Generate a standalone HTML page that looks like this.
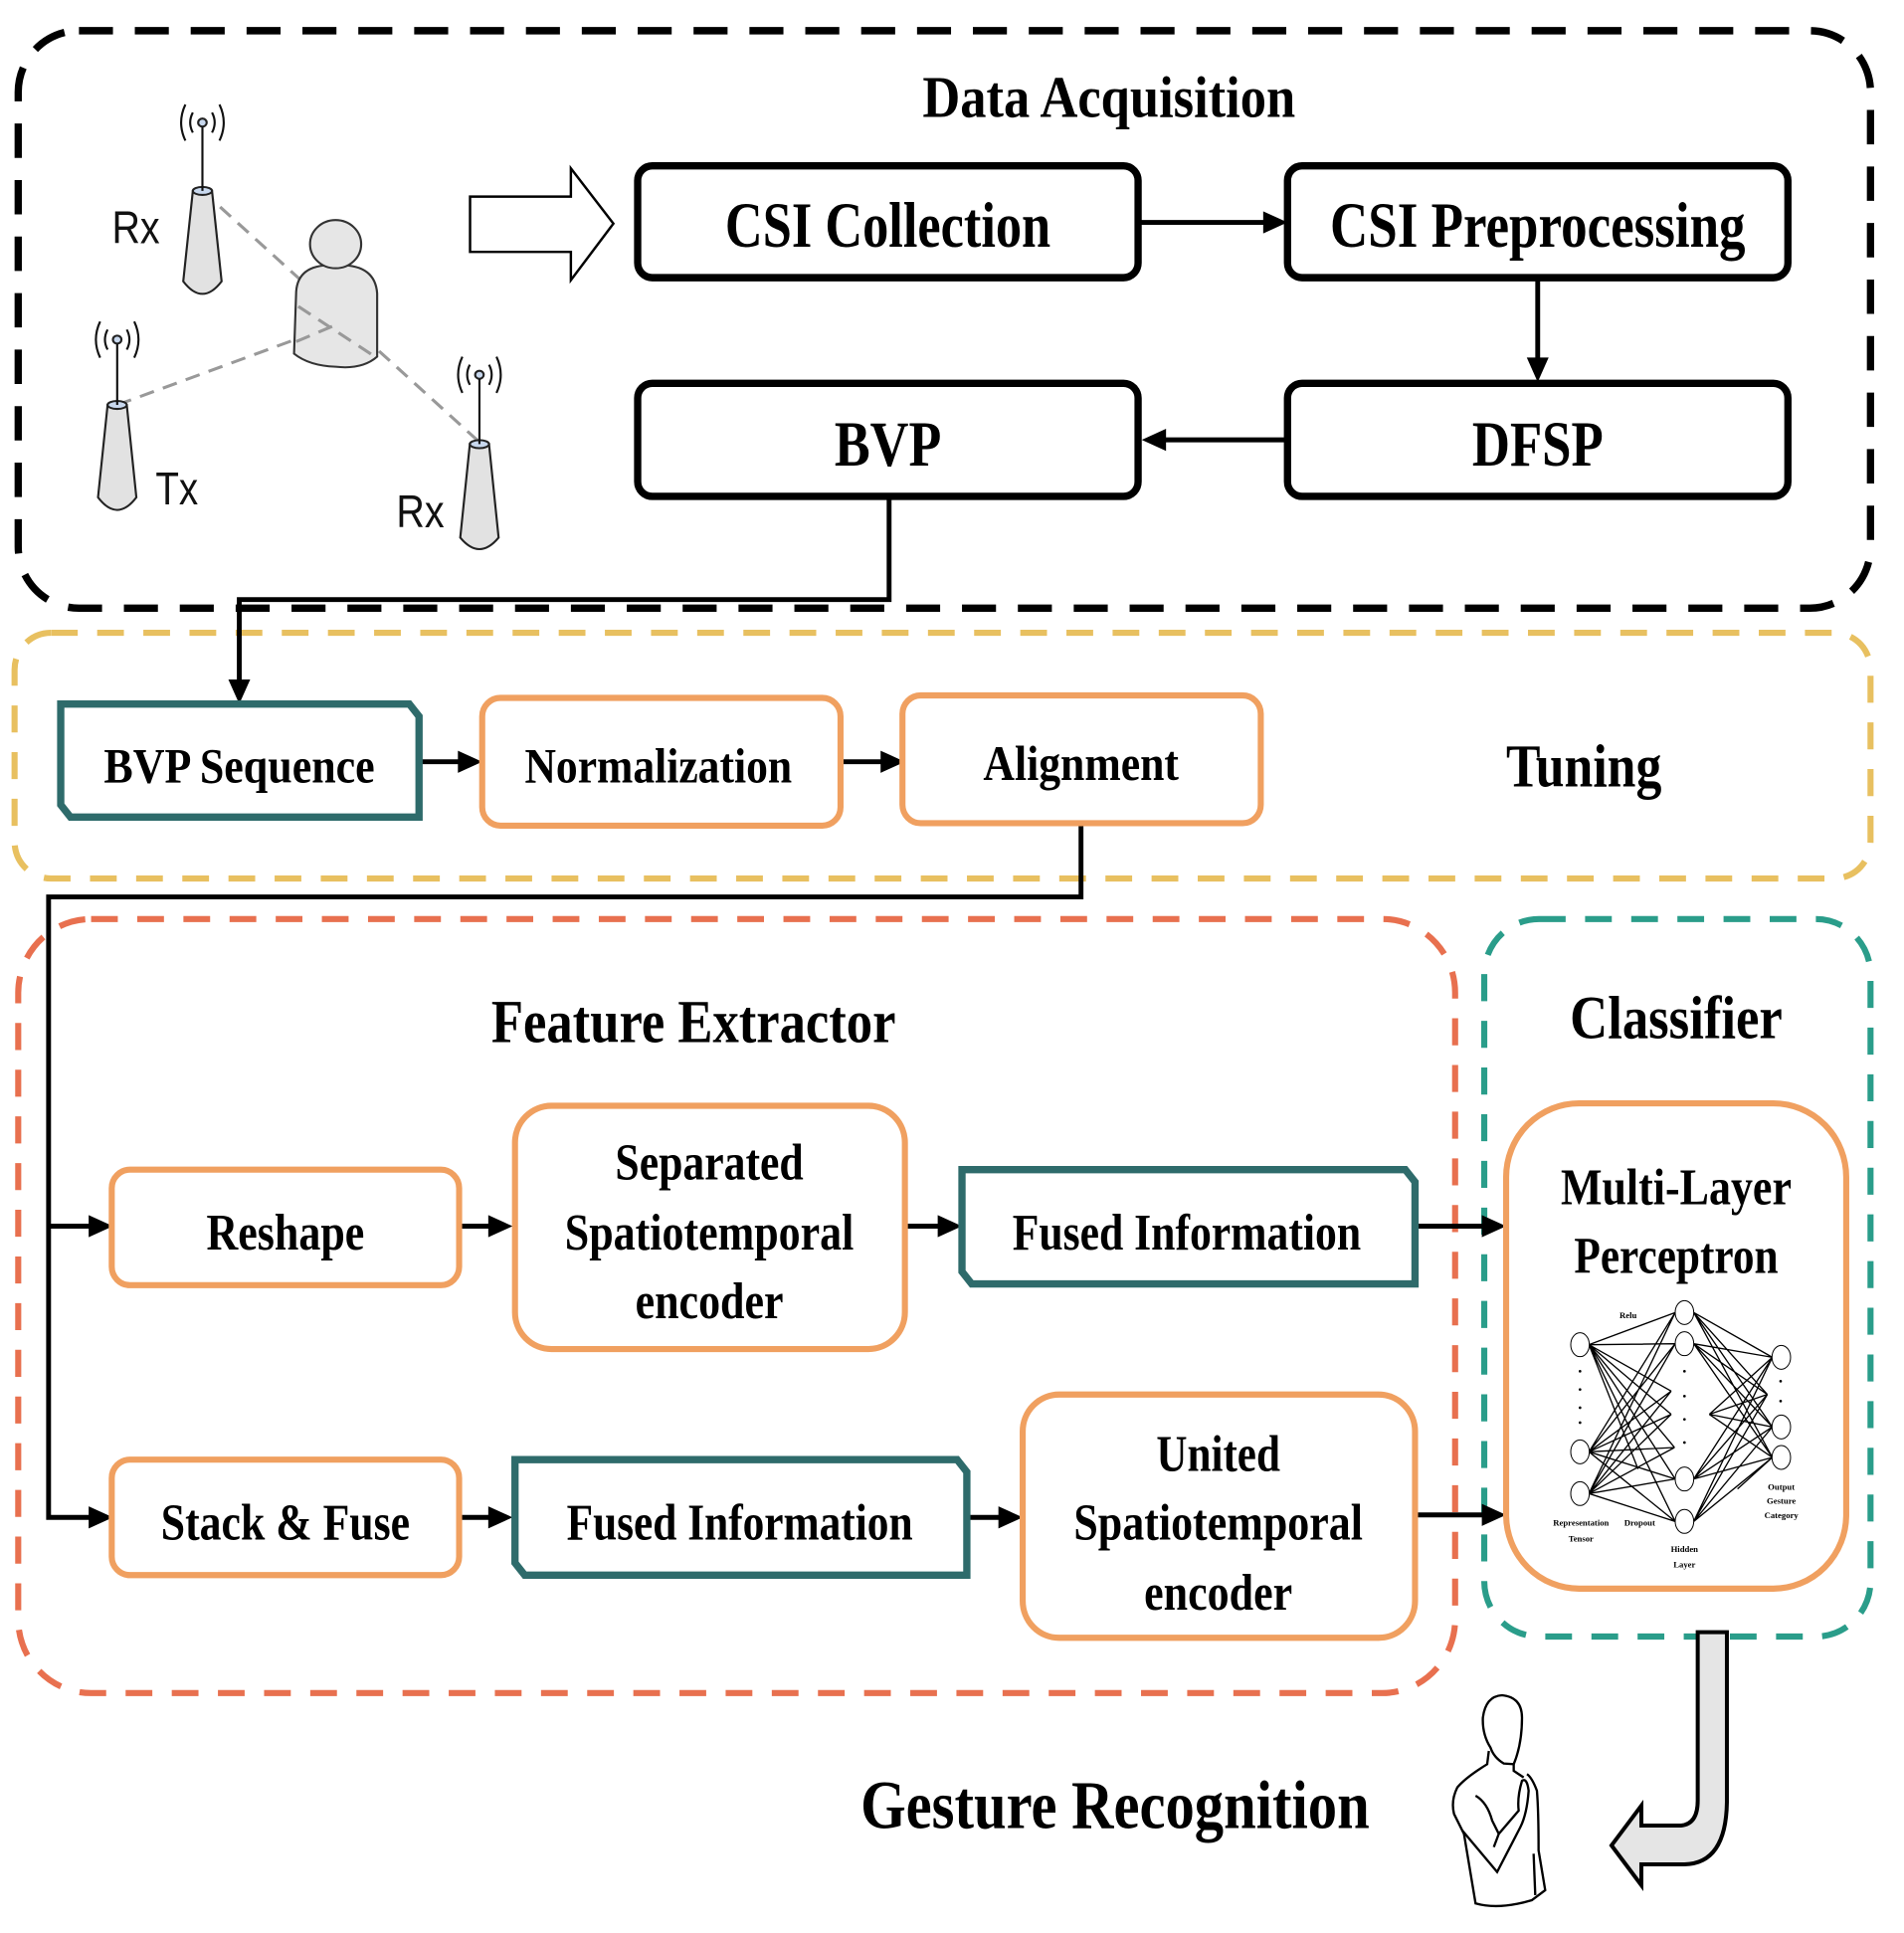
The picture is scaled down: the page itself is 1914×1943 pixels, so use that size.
<!DOCTYPE html>
<html><head><meta charset="utf-8"><style>
html,body{margin:0;padding:0;background:#fff;}
svg{display:block;}
text{font-family:"Liberation Serif",serif;font-weight:bold;}
</style></head><body>
<svg width="1914" height="1943" viewBox="0 0 1914 1943" xmlns="http://www.w3.org/2000/svg">
<g transform="scale(1.221,1.235)">
<rect x="15" y="25" width="1525" height="470" rx="50" fill="none" stroke="#000" stroke-width="6" stroke-dasharray="28 18"/>
<rect x="12" y="515" width="1528" height="200" rx="30" fill="none" stroke="#e8c060" stroke-width="5" stroke-dasharray="22 16"/>
<rect x="15" y="748" width="1183" height="630" rx="60" fill="none" stroke="#e8704f" stroke-width="5" stroke-dasharray="22 16"/>
<rect x="1222" y="748" width="318" height="584" rx="45" fill="none" stroke="#2a9d8a" stroke-width="5" stroke-dasharray="22 16"/>

<text x="913" y="95" font-size="48" text-anchor="middle" textLength="307" lengthAdjust="spacingAndGlyphs">Data Acquisition</text>

<polygon points="387,160 470,160 470,137 505,182 470,228 470,205 387,205" fill="#fff" stroke="#000" stroke-width="2"/>

<g fill="#fff" stroke="#000" stroke-width="6">
<rect x="525" y="135" width="412" height="91" rx="12"/>
<rect x="1060" y="135" width="412" height="91" rx="12"/>
<rect x="525" y="312" width="412" height="92" rx="12"/>
<rect x="1060" y="312" width="412" height="92" rx="12"/>
</g>
<text x="731" y="201" font-size="52" text-anchor="middle" textLength="268" lengthAdjust="spacingAndGlyphs">CSI Collection</text>
<text x="1266" y="201" font-size="52" text-anchor="middle" textLength="342" lengthAdjust="spacingAndGlyphs">CSI Preprocessing</text>
<text x="731" y="379" font-size="52" text-anchor="middle" textLength="88" lengthAdjust="spacingAndGlyphs">BVP</text>
<text x="1266" y="379" font-size="52" text-anchor="middle" textLength="108" lengthAdjust="spacingAndGlyphs">DFSP</text>

<g stroke="#000" stroke-width="4" fill="none">
<line x1="937" y1="181" x2="1045" y2="181"/>
<line x1="1266" y1="226" x2="1266" y2="296"/>
<line x1="1060" y1="358" x2="955" y2="358"/>
<polyline points="732,404 732,488 197,488 197,558"/>
<line x1="345" y1="620" x2="382" y2="620"/>
<line x1="692" y1="620" x2="730" y2="620"/>
<polyline points="890,670 890,730 40,730 40,1235 78,1235"/>
<line x1="40" y1="998" x2="78" y2="998"/>
<line x1="378" y1="998" x2="407" y2="998"/>
<line x1="745" y1="998" x2="777" y2="998"/>
<line x1="1165" y1="998" x2="1225" y2="998"/>
<line x1="378" y1="1235" x2="407" y2="1235"/>
<line x1="796" y1="1235" x2="827" y2="1235"/>
<line x1="1165" y1="1233" x2="1225" y2="1233"/>
</g>
<g fill="#000">
<polygon points="1060,181 1040,172 1040,190"/>
<polygon points="1266,311 1257,291 1275,291"/>
<polygon points="940,358 960,349 960,367"/>
<polygon points="197,573 188,553 206,553"/>
<polygon points="397,620 377,611 377,629"/>
<polygon points="745,620 725,611 725,629"/>
<polygon points="93,998 73,989 73,1007"/>
<polygon points="93,1235 73,1226 73,1244"/>
<polygon points="422,998 402,989 402,1007"/>
<polygon points="792,998 772,989 772,1007"/>
<polygon points="1240,998 1220,989 1220,1007"/>
<polygon points="422,1235 402,1226 402,1244"/>
<polygon points="842,1235 822,1226 822,1244"/>
<polygon points="1240,1233 1220,1224 1220,1242"/>
</g>

<polygon points="50,573 337,573 345,583 345,665 58,665 50,655" fill="#fff" stroke="#2e6b6b" stroke-width="6"/>
<text x="197" y="637" font-size="40" text-anchor="middle" textLength="223" lengthAdjust="spacingAndGlyphs">BVP Sequence</text>
<g fill="#fff" stroke="#f0a060" stroke-width="5">
<rect x="397" y="568" width="295" height="104" rx="15"/>
<rect x="743" y="566" width="295" height="104" rx="15"/>
<rect x="92" y="952" width="286" height="94" rx="15"/>
<rect x="424" y="900" width="321" height="198" rx="30"/>
<rect x="92" y="1188" width="286" height="94" rx="15"/>
<rect x="842" y="1135" width="323" height="198" rx="30"/>
<rect x="1240" y="898" width="280" height="395" rx="60"/>
</g>
<text x="542" y="637" font-size="40" text-anchor="middle" textLength="220" lengthAdjust="spacingAndGlyphs">Normalization</text>
<text x="890" y="635" font-size="40" text-anchor="middle" textLength="161" lengthAdjust="spacingAndGlyphs">Alignment</text>
<text x="1304" y="640" font-size="50" text-anchor="middle" textLength="128" lengthAdjust="spacingAndGlyphs">Tuning</text>

<text x="571" y="848" font-size="50" text-anchor="middle" textLength="333" lengthAdjust="spacingAndGlyphs">Feature Extractor</text>
<text x="1380" y="845" font-size="50" text-anchor="middle" textLength="175" lengthAdjust="spacingAndGlyphs">Classifier</text>

<text x="235" y="1017" font-size="42" text-anchor="middle" textLength="130" lengthAdjust="spacingAndGlyphs">Reshape</text>
<text x="584" y="960" font-size="42" text-anchor="middle" textLength="155" lengthAdjust="spacingAndGlyphs">Separated</text>
<text x="584" y="1017" font-size="42" text-anchor="middle" textLength="238" lengthAdjust="spacingAndGlyphs">Spatiotemporal</text>
<text x="584" y="1073" font-size="42" text-anchor="middle" textLength="122" lengthAdjust="spacingAndGlyphs">encoder</text>
<polygon points="792,952 1157,952 1165,962 1165,1045 800,1045 792,1035" fill="#fff" stroke="#2e6b6b" stroke-width="6"/>
<text x="977" y="1017" font-size="42" text-anchor="middle" textLength="287" lengthAdjust="spacingAndGlyphs">Fused Information</text>

<text x="235" y="1253" font-size="42" text-anchor="middle" textLength="205" lengthAdjust="spacingAndGlyphs">Stack &amp; Fuse</text>
<polygon points="424,1188 788,1188 796,1198 796,1282 432,1282 424,1272" fill="#fff" stroke="#2e6b6b" stroke-width="6"/>
<text x="609" y="1253" font-size="42" text-anchor="middle" textLength="285" lengthAdjust="spacingAndGlyphs">Fused Information</text>
<text x="1003" y="1197" font-size="42" text-anchor="middle" textLength="102" lengthAdjust="spacingAndGlyphs">United</text>
<text x="1003" y="1253" font-size="42" text-anchor="middle" textLength="238" lengthAdjust="spacingAndGlyphs">Spatiotemporal</text>
<text x="1003" y="1310" font-size="42" text-anchor="middle" textLength="122" lengthAdjust="spacingAndGlyphs">encoder</text>

<text x="1380" y="980" font-size="42" text-anchor="middle" textLength="190" lengthAdjust="spacingAndGlyphs">Multi-Layer</text>
<text x="1380" y="1036" font-size="42" text-anchor="middle" textLength="168" lengthAdjust="spacingAndGlyphs">Perceptron</text>

<text x="918" y="1488" font-size="56" text-anchor="middle" textLength="419" lengthAdjust="spacingAndGlyphs">Gesture Recognition</text>
</g>

<g transform="translate(1480,1300) scale(0.3333)">
<g stroke="#000" stroke-width="4">
<path d="M352,155 L612,58 M352,155 L612,152 M352,155 L600,295 M352,155 L600,365 M352,155 L610,465 M352,155 L612,560 M352,155 L612,688 M352,155 L500,530
M352,478 L612,58 M352,478 L612,152 M352,478 L600,295 M352,478 L600,365 M352,478 L610,465 M352,478 L612,560 M352,478 L612,688
M352,604 L612,58 M352,604 L612,152 M352,604 L600,295 M352,604 L600,365 M352,604 L610,465 M352,604 L612,560 M352,604 L612,688
M668,58 L905,193 M668,58 L890,305 M668,58 L905,403 M668,58 L905,495 M668,152 L905,193 M668,152 L890,305 M668,152 L905,403 M668,152 L905,495
M668,560 L905,193 M668,560 L890,305 M668,560 L905,403 M668,560 L905,495 M668,688 L905,193 M668,688 L890,305 M668,688 L905,403 M668,688 L905,495
M715,365 L905,193 M715,365 L905,403 M715,365 L905,495 M715,365 L890,305 M800,590 L905,495" fill="none"/>
</g>
<g fill="#fff" stroke="#000" stroke-width="3">
<ellipse cx="325" cy="155" rx="28" ry="36"/><ellipse cx="325" cy="478" rx="28" ry="36"/><ellipse cx="325" cy="604" rx="28" ry="36"/>
<ellipse cx="640" cy="58" rx="28" ry="36"/><ellipse cx="640" cy="152" rx="28" ry="36"/><ellipse cx="640" cy="560" rx="28" ry="36"/><ellipse cx="640" cy="688" rx="28" ry="36"/>
<ellipse cx="932" cy="193" rx="28" ry="36"/><ellipse cx="932" cy="403" rx="28" ry="36"/><ellipse cx="932" cy="495" rx="28" ry="36"/>
</g>
<g fill="#000"><circle cx="325" cy="235" r="4"/><circle cx="325" cy="290" r="4"/><circle cx="325" cy="345" r="4"/><circle cx="325" cy="390" r="4"/>
<circle cx="640" cy="235" r="4"/><circle cx="640" cy="310" r="4"/><circle cx="640" cy="380" r="4"/><circle cx="640" cy="450" r="4"/>
<circle cx="930" cy="265" r="4"/><circle cx="930" cy="325" r="4"/></g>
<g font-family="Liberation Serif,serif" font-size="26" text-anchor="middle">
<text x="470" y="75" font-weight="normal">Relu</text>
<text x="328" y="700">Representation</text><text x="328" y="748">Tensor</text>
<text x="505" y="700" font-weight="normal">Dropout</text>
<text x="640" y="780">Hidden</text><text x="640" y="826">Layer</text>
<text x="932" y="592">Output</text><text x="932" y="635">Gesture</text><text x="932" y="678">Category</text>
</g>
</g>

<g transform="scale(1.071,1.01)">
<g stroke="#999" stroke-width="3" stroke-dasharray="14 9" fill="none">
<line x1="190" y1="190" x2="450" y2="440"/>
<line x1="110" y1="403" x2="318" y2="322"/>
</g>
<g fill="#e6e6e6" stroke="#333" stroke-width="2">
<path d="M278,290 Q280,262 315,264 Q352,262 354,292 L354,355 Q340,368 315,365 Q290,364 276,352 Z"/>
<circle cx="315" cy="243" r="24"/>
</g>
<g stroke="#999" stroke-width="3" stroke-dasharray="14 9" fill="none">
<line x1="280" y1="305" x2="352" y2="355"/>
<line x1="278" y1="340" x2="318" y2="322"/>
</g>
<g fill="#e2e2e2" stroke="#222" stroke-width="2">
<path d="M181,190 L199,190 L208,280 Q190,305 172,280 Z"/>
<path d="M101,403 L119,403 L128,495 Q110,520 92,495 Z"/>
<path d="M441,442 L459,442 L468,535 Q450,558 432,535 Z"/>
</g>
<g fill="#c8d8ee" stroke="#222" stroke-width="2">
<ellipse cx="190" cy="190" rx="9" ry="4"/><ellipse cx="110" cy="403" rx="9" ry="4"/><ellipse cx="450" cy="442" rx="9" ry="4"/>
<circle cx="190" cy="122" r="4"/><circle cx="110" cy="338" r="4"/><circle cx="450" cy="373" r="4"/>
</g>
<g stroke="#111" stroke-width="2" fill="none">
<line x1="190" y1="126" x2="190" y2="190"/><line x1="110" y1="342" x2="110" y2="403"/><line x1="450" y1="377" x2="450" y2="442"/>
<path d="M181,112 Q176,122 181,132 M199,112 Q204,122 199,132 M174,104 Q166,122 174,140 M206,104 Q214,122 206,140"/>
<path d="M101,328 Q96,338 101,348 M119,328 Q124,338 119,348 M94,320 Q86,338 94,356 M126,320 Q134,338 126,356"/>
<path d="M441,363 Q436,373 441,383 M459,363 Q464,373 459,383 M434,355 Q426,373 434,391 M466,355 Q474,373 466,391"/>
</g>
<g font-size="46" fill="#111">
<text x="105" y="242" style="font-family:'Liberation Sans',sans-serif;font-weight:normal" textLength="45" lengthAdjust="spacingAndGlyphs">Rx</text>
<text x="146" y="502" style="font-family:'Liberation Sans',sans-serif;font-weight:normal" textLength="40" lengthAdjust="spacingAndGlyphs">Tx</text>
<text x="372" y="525" style="font-family:'Liberation Sans',sans-serif;font-weight:normal" textLength="45" lengthAdjust="spacingAndGlyphs">Rx</text>
</g>
</g>

<g transform="translate(1440,1620) scale(0.3333)">
<path d="M800,62 L888,62 L888,575 Q885,760 760,762 L630,762 L630,825 L540,705 L630,585 L630,645 L750,645 Q800,640 800,570 Z" fill="#e5e5e5" stroke="#000" stroke-width="12"/>
<g fill="none" stroke="#000" stroke-width="7">
<path d="M175,410 Q150,370 152,320 Q160,255 210,252 Q270,258 270,320 Q270,400 245,460 L215,458 Q185,440 175,410 Z"/>
<path d="M170,420 L165,460 Q100,500 75,530 Q55,570 65,610 Q85,650 95,670 L130,880 Q200,900 300,870 L340,840 L320,720 Q320,600 315,540 Q300,500 285,490"/>
<path d="M245,460 L245,480 L275,500"/>
<path d="M90,660 L195,785 L265,650 Q285,610 290,540 Q285,500 270,510 Q255,560 260,600 L200,670 L185,710"/>
<path d="M130,555 Q165,575 180,630 L200,670"/>
<path d="M305,730 L310,855"/>
</g>
</g>
</svg>
</body></html>
